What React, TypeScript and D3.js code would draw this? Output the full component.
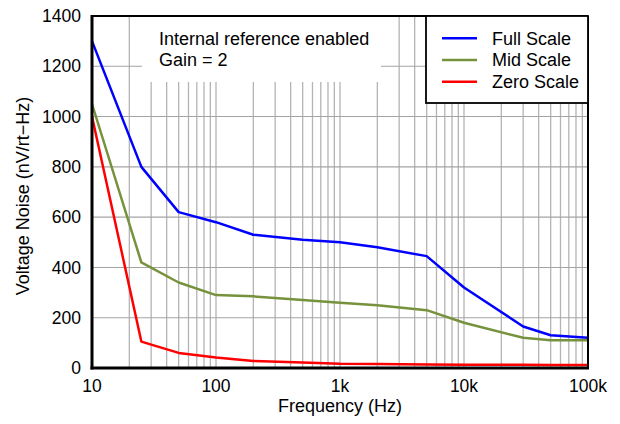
import React from "react";
import * as d3 from "d3";

const freq = [10, 25, 50, 100, 200, 500, 1000, 2000, 5000, 10000, 30000, 50000, 100000];
const fullScale = [1300, 800, 620, 580, 530, 510, 500, 480, 445, 320, 165, 130, 120];
const midScale = [1050, 420, 340, 290, 285, 270, 260, 250, 230, 180, 120, 110, 110];
const zeroScale = [1000, 105, 60, 42, 28, 22, 17, 16, 14, 13, 13, 12, 12];

const xTickValues = [10, 100, 1000, 10000, 100000];
const xTickLabels = ["10", "100", "1k", "10k", "100k"];
const yTickValues = [0, 200, 400, 600, 800, 1000, 1200, 1400];

const seriesNames = ["Full Scale", "Mid Scale", "Zero Scale"];
const seriesColors = ["#0000ff", "#76923c", "#ff0000"];
const annotationLines = ["Internal reference enabled", "Gain = 2"];

const W = 620;
const H = 424;
const M = { left: 92, right: 588, top: 16, bottom: 368 };
const FONT = "'Liberation Sans', Arial, sans-serif";

export default function App() {
  const x = d3.scaleLog().domain([10, 100000]).range([M.left, M.right]);
  const y = d3.scaleLinear().domain([0, 1400]).range([M.bottom, M.top]);
  const series = [fullScale, midScale, zeroScale];
  const line = d3
    .line<number>()
    .x((_, i) => x(freq[i]))
    .y((d) => y(d));
  const gridX = x.ticks();

  return (
    <svg
      width={W}
      height={H}
      style={{ position: "absolute", left: 0, top: 0, background: "#fff" }}
      fontFamily={FONT}
    >
      <rect x={0} y={0} width={W} height={H} fill="#fff" />
      {/* grid */}
      {gridX.map((t, i) => (
        <line key={"gx" + i} x1={x(t)} x2={x(t)} y1={M.top} y2={M.bottom} stroke="#b4b4b4" strokeWidth={1.3} />
      ))}
      {yTickValues.map((t, i) => (
        <line key={"gy" + i} x1={M.left} x2={M.right} y1={y(t)} y2={y(t)} stroke="#a4a4a4" strokeWidth={1.1} />
      ))}
      {/* annotation background */}
      <rect x={142} y={M.top + 1} width={239} height={65} fill="#fff" />
      {annotationLines.map((s, i) => (
        <text key={"an" + i} x={159} y={45 + i * 21} fontSize={18} fill="#000">
          {s}
        </text>
      ))}
      {/* data lines */}
      {series.map((s, i) => (
        <path key={"s" + i} d={line(s) || ""} fill="none" stroke={seriesColors[i]} strokeWidth={2.5} strokeLinejoin="round" />
      ))}
      {/* frame */}
      <line x1={M.left} x2={M.right} y1={M.top} y2={M.top} stroke="#000" strokeWidth={2} />
      <line x1={M.right} x2={M.right} y1={M.top} y2={M.bottom} stroke="#000" strokeWidth={2} />
      <line x1={M.left} x2={M.left} y1={M.top - 1} y2={M.bottom + 1.5} stroke="#000" strokeWidth={3} />
      <line x1={M.left - 1.5} x2={M.right + 1} y1={M.bottom} y2={M.bottom} stroke="#000" strokeWidth={3} />
      {/* legend */}
      <rect x={426} y={M.top} width={162} height={87} fill="#fff" stroke="#000" strokeWidth={1.8} />
      {seriesNames.map((n, i) => (
        <g key={"lg" + i}>
          <line x1={442} x2={477} y1={38.3 + i * 21.7} y2={38.3 + i * 21.7} stroke={seriesColors[i]} strokeWidth={2.5} />
          <text x={492} y={44.5 + i * 21.7} fontSize={18} fill="#000">
            {n}
          </text>
        </g>
      ))}
      {/* y ticks */}
      {yTickValues.map((t, i) => (
        <text key={"yt" + i} x={81} y={y(t)} dy="0.35em" textAnchor="end" fontSize={17.5} fill="#000">
          {t}
        </text>
      ))}
      {/* x ticks */}
      {xTickValues.map((t, i) => (
        <text key={"xt" + i} x={x(t)} y={392} textAnchor="middle" fontSize={17.5} fill="#000">
          {xTickLabels[i]}
        </text>
      ))}
      <text x={(M.left + M.right) / 2} y={412} textAnchor="middle" fontSize={18} fill="#000">
        Frequency (Hz)
      </text>
      <text
        transform={`translate(28.5, ${196}) rotate(-90)`}
        textAnchor="middle"
        fontSize={18}
        fill="#000"
      >
        Voltage Noise (nV/rt−Hz)
      </text>
    </svg>
  );
}
